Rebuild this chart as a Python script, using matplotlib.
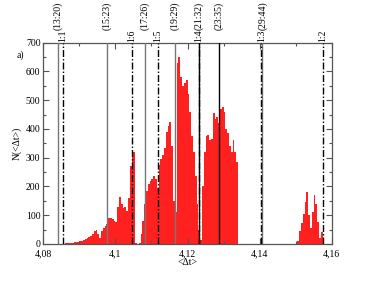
import numpy as np
import matplotlib
matplotlib.use("Agg")
import matplotlib.pyplot as plt
from matplotlib.ticker import MultipleLocator, FixedLocator, FixedFormatter

plt.rcParams['font.family'] = ['Liberation Serif', 'DejaVu Serif']
plt.rcParams['mathtext.fontset'] = 'stix'

# ---- histogram data (bin width 0.0005) ----
bin_width = 0.0005
start_a = 4.0855
counts_a = [1, 2, 2, 3, 4, 5, 7, 8, 8, 10, 12, 14, 16, 20, 23, 28, 35, 45, 50, 35,
            20, 45, 55, 62, 68, 90, 92, 87, 80, 75, 130, 165, 140, 125, 130, 115, 160, 270, 310, 320,
            5, 0, 2, 35, 80, 140, 185, 210, 218, 225, 235, 225, 195, 275, 295, 308, 335, 390, 410, 425,
            340, 150, 110, 630, 650, 580, 550, 560, 570, 520, 460, 375, 320, 235, 140, 50, 15, 200, 320, 375,
            378, 360, 365, 455, 435, 440, 420, 470, 478, 460, 400, 385, 340, 320, 360, 320, 285]
start_b = 4.1505
counts_b = [12, 45, 72, 105, 145, 180, 100, 55, 110, 170, 140, 75, 20, 40, 10]

# ---- reference lines ----
solid_x = [4.0840, 4.0976, 4.1082, 4.1164, 4.1232, 4.1287, 4.1408]
solid_lab = ['(13:20)', '(15:23)', '(17:26)', '(19:29)', '(21:32)', '(23:35)', '(29:44)']
solid_col = ['#777777', '#777777', '#777777', '#777777', 'black', 'black', '#777777']
ratio_x = [4.0855, 4.1046, 4.1117, 4.1231, 4.1405, 4.1576]
ratio_lab = ['1:1', '1:6', '1:5', '1:4', '1:3', '1:2']

xtick_vals = [4.08, 4.10, 4.12, 4.14, 4.16]
xtick_labs = ['4,08', '4,1', '4,12', '4,14', '4,16']

fig = plt.figure(figsize=(3.73, 2.88), dpi=100)
ax = fig.add_axes([0.1161, 0.1528, 0.7732, 0.6989])

xa = start_a + bin_width * np.arange(len(counts_a))
xb = start_b + bin_width * np.arange(len(counts_b))
ax.bar(xa, counts_a, width=bin_width, align='edge', color='#ff2020', linewidth=0)
ax.bar(xb, counts_b, width=bin_width, align='edge', color='#ff2020', linewidth=0)

for x, lab, c in zip(solid_x, solid_lab, solid_col):
    ax.axvline(x, color=c, lw=1.0, zorder=3)
    ax.annotate(lab, xy=(x, 1), xycoords=('data', 'axes fraction'),
                xytext=(0, 9), textcoords='offset points', rotation=90,
                ha='center', va='bottom', fontsize=7)
for x, lab in zip(ratio_x, ratio_lab):
    ax.axvline(x, color='black', lw=1.0, dashes=(5, 1.5, 1, 1.5), zorder=3)
    ax.annotate(lab, xy=(x, 1), xycoords=('data', 'axes fraction'),
                xytext=(0, 0.5), textcoords='offset points', rotation=90,
                ha='center', va='bottom', fontsize=7)

ax.set_xlim(4.08, 4.16)
ax.set_ylim(0, 700)
ax.xaxis.set_major_locator(FixedLocator(xtick_vals))
ax.xaxis.set_major_formatter(FixedFormatter(xtick_labs))
ax.xaxis.set_minor_locator(MultipleLocator(0.01))
ax.yaxis.set_major_locator(MultipleLocator(100))
ax.yaxis.set_minor_locator(MultipleLocator(50))
ax.tick_params(which='both', direction='in', top=True, right=True, labelsize=7,
               color='#555555')
ax.tick_params(axis='x', pad=3.8)
ax.tick_params(axis='y', pad=2.0)
ax.tick_params(which='major', length=4.5, width=0.8)
ax.tick_params(which='minor', length=2.5, width=0.8)
for s in ax.spines.values():
    s.set_color('#555555')
    s.set_linewidth(0.9)

ax.set_xlabel('<Δt>', fontsize=7, labelpad=0)
ax.set_ylabel('N(<Δt>)', fontsize=7, labelpad=3)
fig.text(0.044, 0.81, 'a)', fontsize=7, ha='left', va='center')

fig.savefig('out.png', dpi=100)
